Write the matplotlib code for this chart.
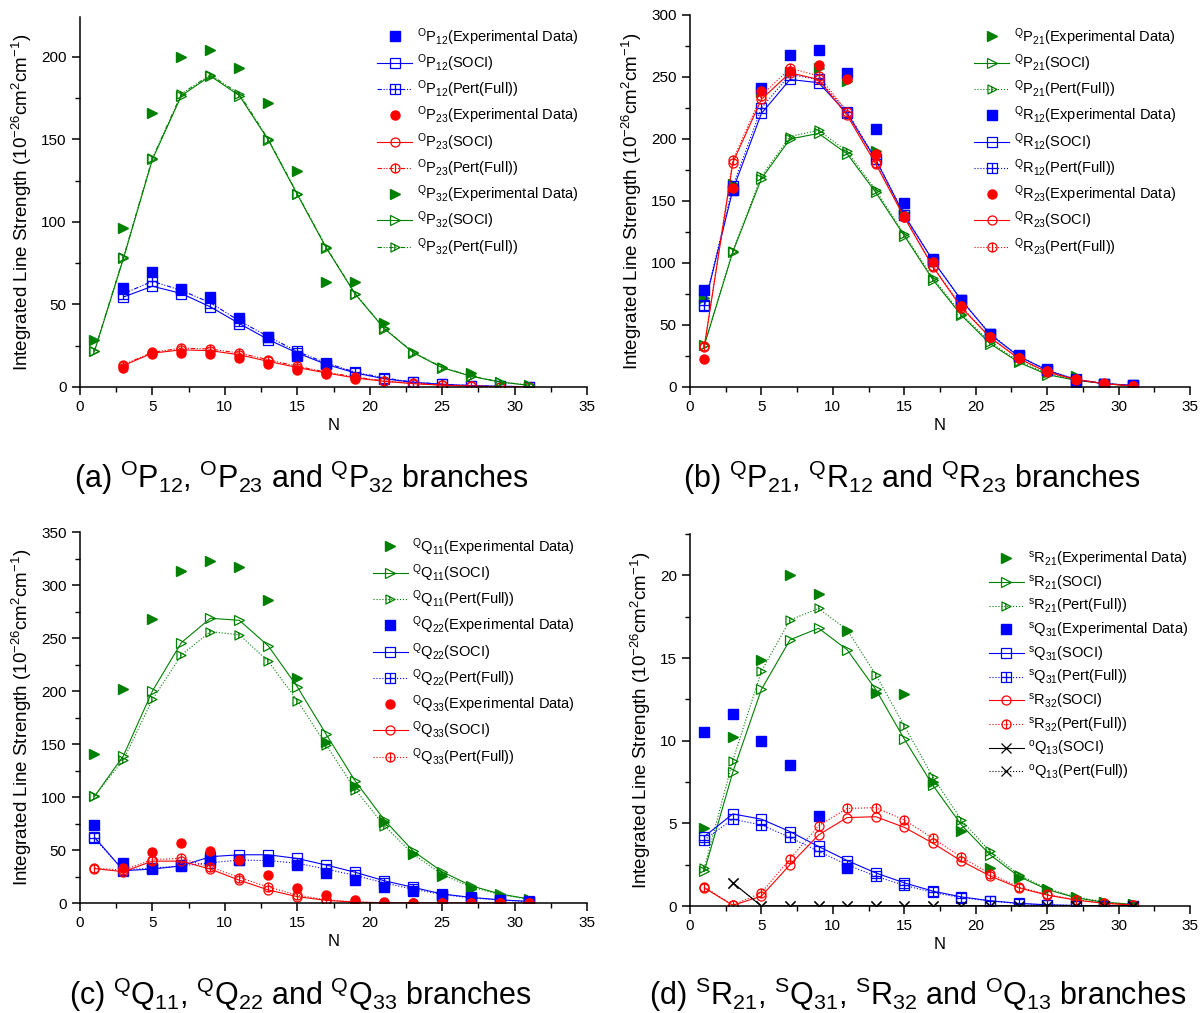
import numpy as np
import matplotlib
matplotlib.use("Agg")
import matplotlib.pyplot as plt
from matplotlib.path import Path
from matplotlib.ticker import MultipleLocator

plt.rcParams['font.family'] = ['Liberation Sans', 'DejaVu Sans']
plt.rcParams['mathtext.fontset'] = 'custom'
plt.rcParams['mathtext.rm'] = 'Liberation Sans'
plt.rcParams['mathtext.default'] = 'regular'

# rotational quantum number N (odd values)
N_all = [1, 3, 5, 7, 9, 11, 13, 15, 17, 19, 21, 23, 25, 27, 29, 31]
N_from3 = [3, 5, 7, 9, 11, 13, 15, 17, 19, 21, 23, 25, 27, 29, 31]

# ---- (a) OP12, OP23, QP32 ----
op12_n_exp = [3, 5, 7, 9, 11, 13, 15, 17]
op12_exp = [60.0, 69.5, 59.5, 54.5, 42.0, 30.5, 19.0, 14.0]
op12_soci = [54.5, 61.0, 56.6, 48.5, 38.4, 28.7, 20.6, 13.7, 8.5, 5.0, 2.8, 1.6, 0.8, 0.4, 0.2]
op12_pert = [56.5, 64.0, 58.5, 51.0, 40.0, 30.5, 21.5, 14.5, 9.0, 5.5, 3.0, 1.7, 0.9, 0.4, 0.2]
op23_n_exp = [3, 5, 7, 9, 11, 13, 15, 17, 19]
op23_exp = [11.5, 20.0, 20.5, 20.0, 17.5, 14.0, 10.5, 8.0, 5.0]
op23_soci = [13.0, 20.5, 22.5, 22.0, 19.5, 15.5, 11.8, 8.5, 5.5, 3.4, 2.0, 1.1, 0.5, 0.2, 0.1]
op23_pert = [13.5, 21.0, 23.5, 23.0, 20.5, 16.5, 12.5, 9.0, 6.0, 3.7, 2.2, 1.2, 0.6, 0.2, 0.1]
qp32_n_exp = [1, 3, 5, 7, 9, 11, 13, 15, 17, 19, 21, 27]
qp32_exp = [28.7, 96.4, 166.0, 200.0, 204.0, 193.0, 172.0, 131.0, 63.6, 63.6, 38.5, 8.5]
qp32_soci = [21.6, 77.8, 137.8, 176.4, 188.3, 176.4, 149.5, 116.6, 84.2, 56.2, 35.4, 20.8, 11.7, 6.5, 3.0, 1.0]
qp32_pert = [22.0, 78.5, 138.5, 177.5, 189.0, 177.5, 150.0, 117.0, 84.5, 56.5, 35.5, 21.0, 12.0, 6.6, 3.1, 1.1]

# ---- (b) QP21, QR12, QR23 ----
qp21_n_exp = [1, 3, 5, 7, 9, 11, 13, 15, 17, 19, 21, 23, 25, 27]
qp21_exp = [72.0, 164.0, 238.0, 254.0, 257.0, 247.0, 190.0, 140.0, 101.0, 68.0, 41.0, 24.0, 13.0, 8.5]
qp21_soci = [33.6, 109.0, 168.0, 200.0, 204.5, 188.0, 157.0, 122.0, 86.6, 57.8, 35.0, 20.0, 10.0, 5.4, 2.7, 0.8]
qp21_pert = [34.0, 110.0, 170.0, 202.0, 207.0, 190.0, 159.0, 123.0, 88.0, 59.0, 36.0, 21.0, 11.0, 5.8, 2.9, 1.0]
qr12_exp = [78.0, 159.0, 241.0, 268.0, 271.5, 253.0, 208.0, 148.5, 103.0, 70.0, 43.0, 25.6, 14.8, 4.0, 2.5, 1.5]
qr12_soci = [65.0, 159.0, 220.6, 248.0, 245.4, 220.6, 183.5, 138.5, 102.0, 70.0, 42.5, 24.8, 13.5, 6.0, 2.7, 1.3]
qr12_pert = [66.0, 162.0, 225.0, 252.0, 248.0, 222.0, 184.0, 139.0, 102.0, 70.0, 43.0, 25.0, 13.8, 6.2, 2.8, 1.4]
qr23_exp = [22.3, 160.5, 238.7, 255.0, 259.7, 248.0, 188.0, 137.0, 101.0, 65.0, 40.0, 23.0, 13.0, 6.7, 3.0, 1.0]
qr23_soci = [32.3, 181.0, 232.0, 253.4, 248.0, 219.0, 180.0, 136.7, 97.0, 64.0, 40.0, 23.0, 12.0, 6.0, 2.7, 0.8]
qr23_pert = [33.0, 183.0, 235.0, 257.0, 251.0, 222.0, 181.0, 137.5, 97.5, 65.0, 40.0, 23.0, 12.5, 6.2, 2.8, 0.9]

# ---- (c) QQ11, QQ22, QQ33 ----
qq11_exp = [140.4, 202.0, 267.7, 313.0, 322.6, 317.3, 285.6, 212.0, 152.0, 110.6, 76.0, 46.0, 25.8, 13.0, 7.0, 3.0]
qq11_soci = [100.5, 139.0, 200.0, 245.7, 268.6, 266.7, 242.5, 204.0, 159.0, 115.0, 78.5, 49.0, 29.5, 16.3, 8.5, 3.8]
qq11_pert = [101.0, 135.0, 192.0, 234.0, 256.0, 253.0, 228.0, 191.0, 149.0, 107.0, 73.0, 46.0, 27.0, 15.0, 8.0, 3.5]
qq22_exp = [73.8, 38.0, 33.0, 36.0, 40.6, 40.5, 41.0, 36.0, 28.5, 21.7, 15.5, 11.0, 6.5, 3.5, 2.0, 1.0]
qq22_soci = [62.0, 30.5, 32.0, 35.0, 43.7, 45.5, 45.5, 42.0, 35.8, 29.0, 21.0, 14.8, 8.5, 5.3, 3.0, 1.5]
qq22_pert = [61.0, 31.0, 33.0, 35.0, 38.0, 40.5, 40.0, 37.5, 32.0, 26.0, 19.0, 13.0, 8.0, 4.8, 2.7, 1.3]
qq33_exp = [33.0, 48.4, 56.6, 49.0, 40.6, 26.4, 14.0, 7.5, 3.0, 0.8, 0.3, 0.2, 0.1, 0.1, 0.1]
qq33_soci = [32.5, 29.5, 39.5, 39.5, 32.0, 21.5, 12.3, 6.0, 2.5, 0.8, 0.2, 0.1, 0.0, 0.0, 0.0, 0.0]
qq33_pert = [33.0, 31.0, 41.0, 42.0, 34.0, 24.0, 15.0, 7.5, 3.0, 1.0, 0.3, 0.1, 0.0, 0.0, 0.0, 0.0]

# ---- (d) SR21, SQ31, SR32, OQ13 ----
sr21_exp = [4.7, 10.25, 14.9, 20.0, 18.9, 16.65, 12.9, 12.8, 7.5, 4.56, 2.3, 1.7, 1.0, 0.55, 0.25, 0.12]
sr21_soci = [2.1, 8.1, 13.1, 16.1, 16.8, 15.5, 13.1, 10.1, 7.3, 4.9, 3.1, 1.8, 1.0, 0.5, 0.22, 0.1]
sr21_pert = [2.3, 8.8, 14.2, 17.3, 18.0, 16.7, 14.0, 10.9, 7.8, 5.2, 3.3, 1.9, 1.05, 0.55, 0.25, 0.1]
sq31_n_exp = [1, 3, 5, 7, 9, 11]
sq31_exp = [10.5, 11.6, 10.0, 8.5, 5.47, 2.3]
sq31_soci = [4.2, 5.57, 5.25, 4.5, 3.6, 2.75, 2.0, 1.4, 0.9, 0.55, 0.32, 0.16, 0.07, 0.03, 0.01, 0.0]
sq31_pert = [4.0, 5.25, 4.9, 4.15, 3.3, 2.5, 1.8, 1.25, 0.82, 0.5, 0.3, 0.15, 0.07, 0.03, 0.01, 0.0]
sr32_soci = [1.1, 0.04, 0.6, 2.5, 4.3, 5.35, 5.4, 4.76, 3.8, 2.72, 1.82, 1.1, 0.66, 0.36, 0.16, 0.06]
sr32_pert = [1.15, 0.05, 0.8, 2.85, 4.85, 5.9, 5.95, 5.2, 4.1, 2.95, 1.95, 1.15, 0.7, 0.38, 0.17, 0.07]
oq13_soci = [1.4, 0.0, 0.0, 0.01, 0.01, 0.02, 0.02, 0.02, 0.02, 0.02, 0.01, 0.01, 0.0, 0.0, 0.0]
oq13_pert = [1.4, 0.0, 0.0, 0.01, 0.01, 0.02, 0.02, 0.02, 0.02, 0.02, 0.01, 0.01, 0.0, 0.0, 0.0]

BLUE, RED, GREEN, BLACK = '#0000ff', '#ff0000', '#008000', '#000000'

# open markers with a bar / cross inside (Origin style "Pert" symbols)
C = Path.CLOSEPOLY
sq_cross = Path([(-1, -1), (1, -1), (1, 1), (-1, 1), (-1, -1), (0, -1), (0, 1), (-1, 0), (1, 0)],
                [1, 2, 2, 2, C, 1, 2, 1, 2])
circ_bar = Path.make_compound_path(Path.unit_circle(), Path([(0, -1), (0, 1)], [1, 2]))
tri_bar = Path([(-1, -1), (1, 0), (-1, 1), (-1, -1), (-0.15, -0.58), (-0.15, 0.58)],
               [1, 2, 2, C, 1, 2])
PERT_MARK = {'s': sq_cross, 'o': circ_bar, '>': tri_bar, 'x': 'x'}
MS = 6.5


def lab(sup, letter, sub, tail):
    return r"$^{%s}$%s$_{%s}$(%s)" % (sup, letter, sub, tail)


def exp(ax, n, y, color, mk, label):
    ax.plot(n, y, ls='none', marker=mk, ms=MS, color=color, mec=color, label=label)


def soci(ax, n, y, color, mk, label):
    ax.plot(n, y, ls='-', lw=0.8, marker=mk, ms=MS, mfc='none', mec=color, mew=0.9,
            color=color, label=label)


def pert(ax, n, y, color, mk, label, ls=':'):
    ax.plot(n, y, ls=ls, lw=0.8, marker=PERT_MARK[mk], ms=MS, mfc='none', mec=color, mew=0.9,
            color=color, label=label)


def style(ax, ymax, ystep, leg_xy):
    ax.set_xlim(0, 35)
    ax.set_ylim(0, ymax)
    ax.xaxis.set_major_locator(MultipleLocator(5))
    ax.xaxis.set_minor_locator(MultipleLocator(2.5))
    ax.yaxis.set_major_locator(MultipleLocator(ystep))
    ax.yaxis.set_minor_locator(MultipleLocator(ystep / 2))
    for sp in ['top', 'right']:
        ax.spines[sp].set_visible(False)
    for sp in ['left', 'bottom']:
        ax.spines[sp].set_linewidth(1.1)
    ax.tick_params(which='major', direction='out', length=6, width=1.1, labelsize=11)
    ax.tick_params(which='minor', direction='out', length=3.5, width=1.0)
    ax.set_xlabel('N', fontsize=12, labelpad=3)
    ax.set_ylabel(r'Integrated Line Strength (10$^{-26}$cm$^{2}$cm$^{-1}$)', fontsize=13.5, labelpad=5)
    ax.legend(loc='upper right', bbox_to_anchor=leg_xy, bbox_transform=fig.transFigure,
              frameon=False, fontsize=10.5, handlelength=2.4, handletextpad=0.3,
              labelspacing=0.32, borderpad=0, borderaxespad=0)


W, H = 1202, 1013
fig = plt.figure(figsize=(W / 100, H / 100), dpi=100)
ax_a = fig.add_axes([80 / W, 626 / H, 507 / W, 370 / H])
ax_b = fig.add_axes([690 / W, 626 / H, 500 / W, 372 / H])
ax_c = fig.add_axes([80 / W, 110 / H, 507 / W, 371 / H])
ax_d = fig.add_axes([690 / W, 107 / H, 500 / W, 372 / H])

# (a)
dd = (0, (4, 1.5, 1, 1.5, 1, 1.5))
exp(ax_a, op12_n_exp, op12_exp, BLUE, 's', lab('O', 'P', '12', 'Experimental Data'))
soci(ax_a, N_from3, op12_soci, BLUE, 's', lab('O', 'P', '12', 'SOCI'))
pert(ax_a, N_from3, op12_pert, BLUE, 's', lab('O', 'P', '12', 'Pert(Full)'), ls=dd)
exp(ax_a, op23_n_exp, op23_exp, RED, 'o', lab('O', 'P', '23', 'Experimental Data'))
soci(ax_a, N_from3, op23_soci, RED, 'o', lab('O', 'P', '23', 'SOCI'))
pert(ax_a, N_from3, op23_pert, RED, 'o', lab('O', 'P', '23', 'Pert(Full)'), ls=dd)
exp(ax_a, qp32_n_exp, qp32_exp, GREEN, '>', lab('Q', 'P', '32', 'Experimental Data'))
soci(ax_a, N_all, qp32_soci, GREEN, '>', lab('Q', 'P', '32', 'SOCI'))
pert(ax_a, N_all, qp32_pert, GREEN, '>', lab('Q', 'P', '32', 'Pert(Full)'), ls=dd)
style(ax_a, 224, 50, (578 / W, 1 - 26 / H))

# (b)
exp(ax_b, qp21_n_exp, qp21_exp, GREEN, '>', lab('Q', 'P', '21', 'Experimental Data'))
soci(ax_b, N_all, qp21_soci, GREEN, '>', lab('Q', 'P', '21', 'SOCI'))
pert(ax_b, N_all, qp21_pert, GREEN, '>', lab('Q', 'P', '21', 'Pert(Full)'))
exp(ax_b, N_all, qr12_exp, BLUE, 's', lab('Q', 'R', '12', 'Experimental Data'))
soci(ax_b, N_all, qr12_soci, BLUE, 's', lab('Q', 'R', '12', 'SOCI'))
pert(ax_b, N_all, qr12_pert, BLUE, 's', lab('Q', 'R', '12', 'Pert(Full)'))
exp(ax_b, N_all, qr23_exp, RED, 'o', lab('Q', 'R', '23', 'Experimental Data'))
soci(ax_b, N_all, qr23_soci, RED, 'o', lab('Q', 'R', '23', 'SOCI'))
pert(ax_b, N_all, qr23_pert, RED, 'o', lab('Q', 'R', '23', 'Pert(Full)'))
style(ax_b, 300, 50, (1176 / W, 1 - 26 / H))

# (c)
exp(ax_c, N_all, qq11_exp, GREEN, '>', lab('Q', 'Q', '11', 'Experimental Data'))
soci(ax_c, N_all, qq11_soci, GREEN, '>', lab('Q', 'Q', '11', 'SOCI'))
pert(ax_c, N_all, qq11_pert, GREEN, '>', lab('Q', 'Q', '11', 'Pert(Full)'))
exp(ax_c, N_all, qq22_exp, BLUE, 's', lab('Q', 'Q', '22', 'Experimental Data'))
soci(ax_c, N_all, qq22_soci, BLUE, 's', lab('Q', 'Q', '22', 'SOCI'))
pert(ax_c, N_all, qq22_pert, BLUE, 's', lab('Q', 'Q', '22', 'Pert(Full)'))
exp(ax_c, N_from3, qq33_exp, RED, 'o', lab('Q', 'Q', '33', 'Experimental Data'))
soci(ax_c, N_all, qq33_soci, RED, 'o', lab('Q', 'Q', '33', 'SOCI'))
pert(ax_c, N_all, qq33_pert, RED, 'o', lab('Q', 'Q', '33', 'Pert(Full)'))
style(ax_c, 350, 50, (575 / W, 1 - 536 / H))

# (d)
exp(ax_d, N_all, sr21_exp, GREEN, '>', lab('s', 'R', '21', 'Experimental Data'))
soci(ax_d, N_all, sr21_soci, GREEN, '>', lab('s', 'R', '21', 'SOCI'))
pert(ax_d, N_all, sr21_pert, GREEN, '>', lab('s', 'R', '21', 'Pert(Full)'))
exp(ax_d, sq31_n_exp, sq31_exp, BLUE, 's', lab('s', 'Q', '31', 'Experimental Data'))
soci(ax_d, N_all, sq31_soci, BLUE, 's', lab('s', 'Q', '31', 'SOCI'))
pert(ax_d, N_all, sq31_pert, BLUE, 's', lab('s', 'Q', '31', 'Pert(Full)'))
soci(ax_d, N_all, sr32_soci, RED, 'o', lab('s', 'R', '32', 'SOCI'))
pert(ax_d, N_all, sr32_pert, RED, 'o', lab('s', 'R', '32', 'Pert(Full)'))
soci(ax_d, N_from3, oq13_soci, BLACK, 'x', lab('o', 'Q', '13', 'SOCI'))
pert(ax_d, N_from3, oq13_pert, BLACK, 'x', lab('o', 'Q', '13', 'Pert(Full)'))
style(ax_d, 22.5, 5, (1188 / W, 1 - 550 / H))

# panel captions
cap = dict(fontsize=22, ha='center', va='center')
fig.text(301 / W, 1 - 478 / H, r"(a) $^{O}$P$_{12}$, $^{O}$P$_{23}$ and $^{Q}$P$_{32}$ branches", **cap)
fig.text(912 / W, 1 - 478 / H, r"(b) $^{Q}$P$_{21}$, $^{Q}$R$_{12}$ and $^{Q}$R$_{23}$ branches", **cap)
fig.text(300 / W, 1 - 995 / H, r"(c) $^{Q}$Q$_{11}$, $^{Q}$Q$_{22}$ and $^{Q}$Q$_{33}$ branches", **cap)
fig.text(918 / W, 1 - 995 / H,
         r"(d) $^{S}$R$_{21}$, $^{S}$Q$_{31}$, $^{S}$R$_{32}$ and $^{O}$Q$_{13}$ branches", **cap)

fig.savefig("out.png", dpi=100)
